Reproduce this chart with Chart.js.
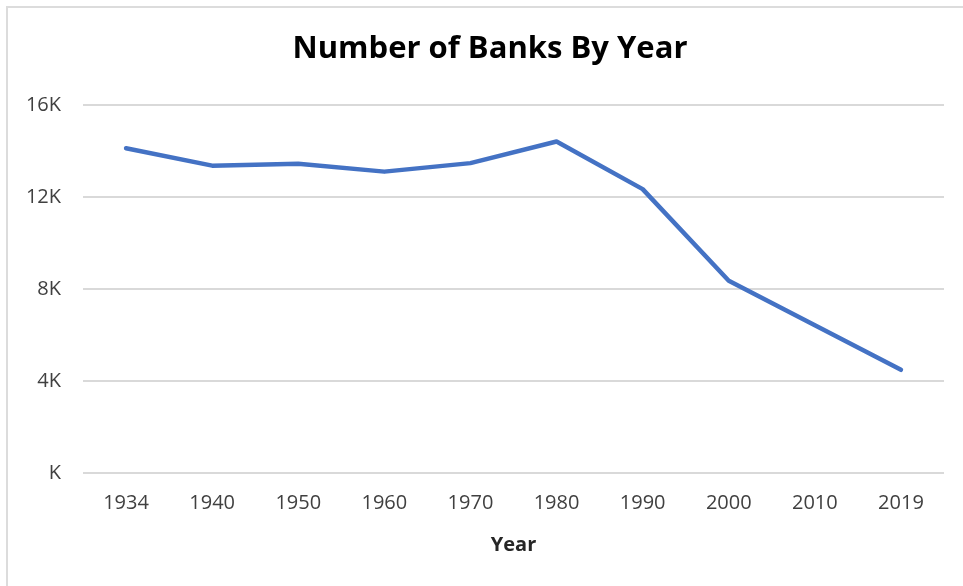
<!DOCTYPE html>
<html>
<head>
<meta charset="utf-8">
<script src="https://cdn.jsdelivr.net/npm/chart.js@4"></script>
<style>
    html, body { margin: 0; padding: 0; background: #fff; }
    #wrap { position: relative; width: 963px; height: 586px; overflow: hidden; }
    #frame { position: absolute; left: 6px; top: 6px; right: -10px; bottom: -10px;
             border-left: 2px solid #dcdcdc; border-top: 2px solid #dcdcdc; }
    canvas { position: absolute; left: 0; top: 0; }
</style>
</head>
<body>
<div id="wrap">
    <div id="frame"></div>
    <canvas id="chart" width="963" height="586"></canvas>
</div>
<script>
// 연도 (x축)
const years = ['1934', '1940', '1950', '1960', '1970', '1980', '1990', '2000', '2010', '2019'];
// 은행 수
const banks = [14130, 13370, 13450, 13110, 13480, 14420, 12350, 8360, 6430, 4490];
// y축 눈금
const yTicks = [0, 4000, 8000, 12000, 16000];

const chartTitle = 'Number of Banks By Year';
const xTitle = 'Year';

const fontFamily = '"Open Sans", "Noto Sans", sans-serif';

// 제목을 원본처럼 약간 오른쪽으로 (제목 박스 왼쪽 끝만 이동)
const titleShift = {
    id: 'titleShift',
    afterLayout(chart) {
        if (chart.titleBlock) chart.titleBlock.left = 36;
    }
};

const ctx = document.getElementById('chart').getContext('2d');
new Chart(ctx, {
    type: 'line',
    data: {
        labels: years,
        datasets: [{
            label: 'Banks',
            data: banks,
            borderColor: '#4472C4',
            backgroundColor: '#4472C4',
            borderWidth: 4.5,
            pointRadius: 0,
            tension: 0,
            borderCapStyle: 'round',
            borderJoinStyle: 'round'
        }]
    },
    options: {
        responsive: false,
        animation: false,
        layout: { padding: { left: 0, right: 19, top: 0, bottom: 0 } },
        plugins: {
            legend: { display: false },
            tooltip: { enabled: false },
            title: {
                display: true,
                text: chartTitle,
                color: '#000',
                font: { family: fontFamily, size: 31, weight: 'bold' },
                padding: { top: 31, bottom: 37 }
            }
        },
        scales: {
            x: {
                offset: true,
                grid: { display: false, drawTicks: false },
                border: { display: false },
                ticks: {
                    color: '#404040',
                    font: { family: fontFamily, size: 20 },
                    padding: 18,
                    maxRotation: 0
                },
                title: {
                    display: true,
                    text: xTitle,
                    color: '#262626',
                    font: { family: fontFamily, size: 20, weight: 'bold' },
                    padding: { top: 29, bottom: 29 }
                },
                afterFit: (scale) => { scale.height = 113; }
            },
            y: {
                min: 0,
                max: 16000,
                afterBuildTicks: (scale) => { scale.ticks = yTicks.map(v => ({ value: v })); },
                grid: { color: '#d9d9d9', lineWidth: 2, drawTicks: false },
                border: { display: false },
                ticks: {
                    color: '#404040',
                    font: { family: fontFamily, size: 20 },
                    padding: 22,
                    callback: (v) => (v === 0 ? 'K' : (v / 1000) + 'K')
                },
                afterFit: (scale) => { scale.width = 83; }
            }
        }
    },
    plugins: [titleShift]
});
</script>
</body>
</html>
